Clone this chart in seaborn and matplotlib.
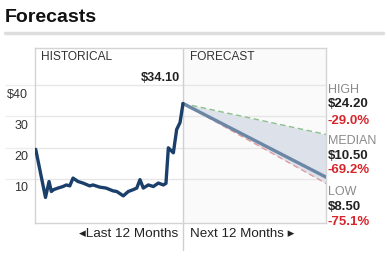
import matplotlib
matplotlib.use("Agg")
import matplotlib.pyplot as plt
import matplotlib.transforms as mtransforms
from matplotlib.lines import Line2D
import seaborn as sns
import pandas as pd

# ---- data ----
hist_months = [-12.36, -11.54, -11.24, -11.05, -10.85, -10.49, -10.07, -9.79, -9.50,
               -9.23, -8.81, -8.39, -7.83, -7.55, -6.99, -6.46, -5.87, -5.56, -5.01,
               -4.59, -4.17, -3.88, -3.61, -3.33, -2.91, -2.49, -2.07, -1.65, -1.43,
               -1.23, -0.81, -0.53, -0.25, 0.0]
hist_price = [19.4, 4.0, 9.1, 5.9, 6.5, 7.0, 7.5, 8.0, 7.7,
              10.2, 9.1, 8.6, 7.7, 8.0, 7.3, 7.0, 6.1, 5.9, 4.5,
              5.9, 6.5, 7.0, 9.7, 7.0, 8.0, 7.5, 8.6, 8.0, 8.5,
              19.9, 18.3, 25.8, 28.0, 34.1]
fc_months = [0, 12]
fc_high = [34.1, 24.2]
fc_median = [34.1, 10.5]
fc_low = [34.1, 8.5]
y_ticks = [10, 20, 30, 40]
y_tick_labels = ["10", "20", "30", "$40"]
current_label = "$34.10"
target_names = ["HIGH", "MEDIAN", "LOW"]
target_prices = ["$24.20", "$10.50", "$8.50"]
target_changes = ["-29.0%", "-69.2%", "-75.1%"]

sns.set_theme(style="white")
plt.rcParams['font.family'] = ['Liberation Sans', 'DejaVu Sans']

fig = plt.figure(figsize=(3.87, 2.69), dpi=100)
ax = fig.add_axes([35/387, 1-223/269, (326-35)/387, (223-48)/269])

XMIN, XMAX = -12.42, 12
ax.set_xlim(XMIN, XMAX)
ax.set_ylim(-4.2, 51.9)

# forecast panel background
ax.axvspan(0, XMAX, color="#fafafa", zorder=0, lw=0)
for y in y_ticks:
    ax.axhline(y, color="#e6e6e6", lw=1, zorder=1)
    ax.axhline(y, xmin=-0.1, xmax=0, color="#ececec", lw=1, zorder=1, clip_on=False)

ax.fill_between(fc_months, fc_low, fc_high, color="#dde1ea", lw=0, zorder=2)

hist_df = pd.DataFrame({"m": hist_months, "p": hist_price})
sns.lineplot(data=hist_df, x="m", y="p", ax=ax, color="#1b3f6b", lw=2.4, zorder=5)
sns.lineplot(x=fc_months, y=fc_high, ax=ax, color="#8cc08c", lw=1.0, ls=(0, (4, 2.5)), zorder=3)
sns.lineplot(x=fc_months, y=fc_low, ax=ax, color="#e59a9a", lw=1.0, ls=(0, (4, 2.5)), zorder=3)
sns.lineplot(x=fc_months, y=fc_median, ax=ax, color="#6c87a6", lw=2.4, zorder=4)

# spines
for s in ax.spines.values():
    s.set_color("#d4d4d4")
    s.set_linewidth(1)

# divider line extends below axes
ax.add_line(Line2D([0, 0], [0, -27/175], transform=ax.get_xaxis_transform(),
                   color="#d0d0d0", lw=1, clip_on=False))
ax.axvline(0, color="#d0d0d0", lw=1, zorder=2)

ax.set_xticks([])
ax.set_yticks(y_ticks)
ax.set_yticklabels(y_tick_labels, fontsize=9, color="#333333")
ax.tick_params(axis="y", length=0, pad=5)
offset = mtransforms.ScaledTranslation(0, -8/100, fig.dpi_scale_trans)
for lab in ax.get_yticklabels():
    lab.set_transform(lab.get_transform() + offset)
ax.set_xlabel("")
ax.set_ylabel("")

# panel headers
ax.text(41/387, 1-57/269, "HISTORICAL", transform=fig.transFigure, fontsize=8.6,
        color="#333333", va="center", ha="left")
ax.text(190/387, 1-57/269, "FORECAST", transform=fig.transFigure, fontsize=8.6,
        color="#333333", va="center", ha="left")
ax.text(180/387, 1-78/269, current_label, transform=fig.transFigure, fontsize=9.2,
        fontweight="bold", color="#222222", va="center", ha="right")

# right-side target labels
ys = [(90, 104, 121), (141, 156, 170), (192, 207, 222)]
for (y1, y2, y3), n, p, c in zip(ys, target_names, target_prices, target_changes):
    fig.text(328/387, 1-y1/269, n, fontsize=9, color="#8a8a8a", va="center", ha="left")
    fig.text(328/387, 1-y2/269, p, fontsize=9.5, fontweight="bold", color="#222222",
             va="center", ha="left")
    fig.text(328/387, 1-y3/269, c, fontsize=9.5, fontweight="bold", color="#d7262b",
             va="center", ha="left")

# bottom labels
fig.text(178/387, 1-234/269, "◂Last 12 Months", fontsize=9.7, color="#222222",
         va="center", ha="right")
fig.text(190/387, 1-234/269, "Next 12 Months ▸", fontsize=9.6, color="#222222",
         va="center", ha="left")

# title
fig.text(5/387, 1-17/269, "Forecasts", fontsize=14, fontweight="bold", color="#111111",
         va="center", ha="left")
fig.add_artist(Line2D([5/387, 383/387], [1-33/269, 1-33/269], transform=fig.transFigure,
                      color="#dddddd", lw=2.5))

fig.savefig("out.png", dpi=100)
